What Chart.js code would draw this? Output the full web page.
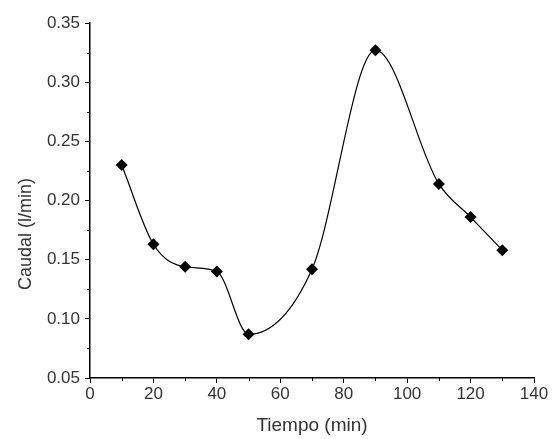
<!DOCTYPE html>
<html lang="es">
<head>
  <meta charset="UTF-8" />
  <title>Caudal vs Tiempo</title>
  <script src="https://cdn.jsdelivr.net/npm/chart.js"></script>
  <style>
    body { margin: 0; background: #fff; }
    canvas { display: block; }
  </style>
</head>
<body>
  <canvas id="caudalChart" width="557" height="439"></canvas>

  <script>
    // datos
    const tiempo = [10, 20, 30, 40, 50, 70, 90, 110, 120, 130];
    const caudal = [0.230, 0.163, 0.144, 0.140, 0.087, 0.142, 0.327, 0.214, 0.186, 0.158];

    const ejeX = { min: 0, max: 140, paso: 20, menor: 10 };
    const ejeY = { min: 0.05, max: 0.35, paso: 0.05, menor: 0.025 };

    const tituloX = "Tiempo (min)";
    const tituloY = "Caudal (l/min)";

    const fuente = "'Liberation Sans', Arial, sans-serif";

    // marcas menores y titulo del eje Y
    const extras = {
      id: "extras",
      afterDraw(chart) {
        const ctx = chart.ctx;
        const sx = chart.scales.x;
        const sy = chart.scales.y;
        const area = chart.chartArea;
        ctx.save();
        ctx.strokeStyle = "#000";
        ctx.lineWidth = 1;
        ctx.beginPath();
        for (let v = ejeX.min + ejeX.menor; v < ejeX.max; v += ejeX.paso) {
          const px = Math.round(sx.getPixelForValue(v)) + 0.5;
          ctx.moveTo(px, area.bottom);
          ctx.lineTo(px, area.bottom + 3);
        }
        for (let v = ejeY.min + ejeY.menor; v < ejeY.max; v += ejeY.paso) {
          const py = Math.round(sy.getPixelForValue(v)) + 0.5;
          ctx.moveTo(area.left, py);
          ctx.lineTo(area.left - 3, py);
        }
        ctx.stroke();

        ctx.fillStyle = "#333";
        ctx.font = "18px " + fuente;
        ctx.textAlign = "center";
        ctx.textBaseline = "middle";
        ctx.translate(26, 234);
        ctx.rotate(-Math.PI / 2);
        ctx.fillText(tituloY, 0, 0);
        ctx.restore();
      }
    };

    const ctx = document.getElementById("caudalChart").getContext("2d");

    new Chart(ctx, {
      type: "line",
      data: {
        datasets: [{
          label: tituloY,
          data: tiempo.map((t, i) => ({ x: t, y: caudal[i] })),
          borderColor: "#000",
          borderWidth: 1.2,
          backgroundColor: "#000",
          pointStyle: "rectRot",
          pointRadius: 6,
          pointBorderWidth: 0,
          cubicInterpolationMode: "monotone",
          fill: false
        }]
      },
      options: {
        responsive: false,
        animation: false,
        layout: { padding: { top: 23, right: 23, left: 0, bottom: 0 } },
        plugins: {
          legend: { display: false },
          tooltip: { enabled: false }
        },
        scales: {
          x: {
            type: "linear",
            min: ejeX.min,
            max: ejeX.max,
            afterFit: s => { s.height = 61; },
            border: { color: "#000", width: 1.5 },
            grid: { drawOnChartArea: false, tickLength: 5, color: "#000" },
            ticks: {
              stepSize: ejeX.paso,
              color: "#333",
              padding: 1,
              maxRotation: 0,
              font: { family: fuente, size: 17 }
            },
            title: {
              display: true,
              text: tituloX,
              color: "#333",
              padding: { top: 4, bottom: 2 },
              font: { family: fuente, size: 19 }
            }
          },
          y: {
            min: ejeY.min,
            max: ejeY.max,
            afterFit: s => { s.width = 90; },
            border: { color: "#000", width: 1.5 },
            grid: { drawOnChartArea: false, tickLength: 5, color: "#000" },
            ticks: {
              stepSize: ejeY.paso,
              color: "#333",
              padding: 5,
              font: { family: fuente, size: 17 },
              callback: v => v.toFixed(2)
            }
          }
        }
      },
      plugins: [extras]
    });
  </script>
</body>
</html>
